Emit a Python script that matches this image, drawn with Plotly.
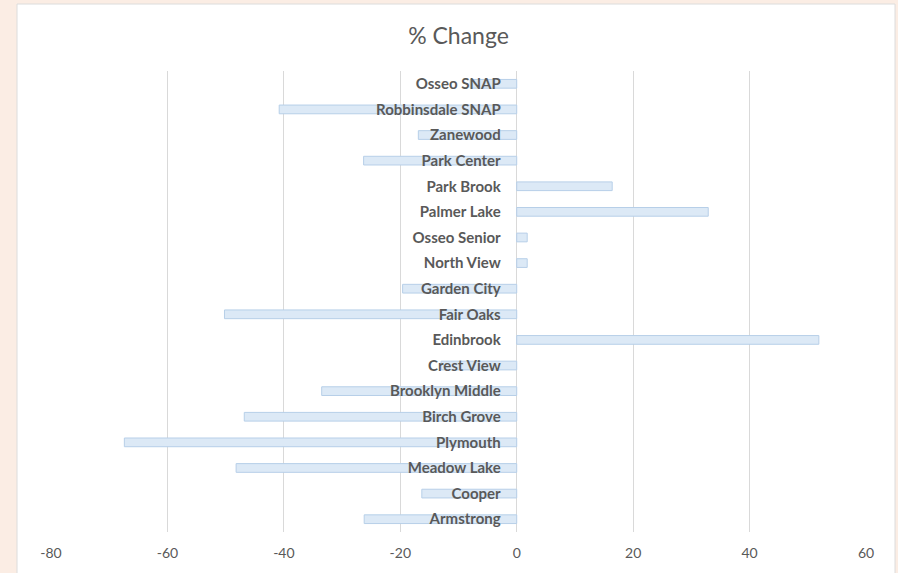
import plotly.graph_objects as go

categories = ["Osseo SNAP", "Robbinsdale SNAP", "Zanewood", "Park Center", "Park Brook",
              "Palmer Lake", "Osseo Senior", "North View", "Garden City", "Fair Oaks",
              "Edinbrook", "Crest View", "Brooklyn Middle", "Birch Grove", "Plymouth",
              "Meadow Lake", "Cooper", "Armstrong"]
pct_change = [-8, -40.8, -16.9, -26.3, 16.4, 32.9, 1.8, 1.8, -19.6, -50.2,
              51.9, -13, -33.5, -46.8, -67.4, -48.2, -16.3, -26.2]
x_ticks = [-80, -60, -40, -20, 0, 20, 40, 60]
x_tick_labels = ["-80", "-60", "-40", "-20", "0", "20", "40", "60"]

W, H = 898, 573
L, R, T, B = 51, 32, 71, 41
pw, ph = W - L - R, H - T - B

def px_x(p):
    return (p - L) / pw

def px_y(p):
    return (H - B - p) / ph

fig = go.Figure(go.Bar(
    x=pct_change, y=categories, orientation="h", width=0.34,
    marker=dict(color="#dce9f6", line=dict(color="#b7cfe8", width=1)),
    hoverinfo="x+y",
))

fig.add_shape(type="rect", xref="paper", yref="paper", layer="below",
              x0=px_x(17), x1=px_x(895), y0=px_y(575), y1=px_y(4),
              fillcolor="white", line=dict(color="#dcdcdc", width=1))

fig.update_layout(
    width=W, height=H,
    margin=dict(l=L, r=R, t=T, b=B),
    paper_bgcolor="#fbede4",
    plot_bgcolor="rgba(0,0,0,0)",
    showlegend=False,
    title=dict(text="% Change", x=0.5, xref="paper", xanchor="center",
               y=1 - 36 / H, yanchor="middle",
               font=dict(family="Lato, Open Sans, sans-serif", size=23, color="#595959")),
    xaxis=dict(range=[-80, 60], tickvals=x_ticks, ticktext=x_tick_labels,
               showgrid=True, gridcolor="#d9d9d9",
               gridwidth=1, zeroline=True, zerolinecolor="#d9d9d9", zerolinewidth=1,
               showline=False, ticks="outside", ticklen=8, tickcolor="rgba(0,0,0,0)",
               tickfont=dict(family="Lato, Open Sans, sans-serif", size=14, color="#595959"),
               fixedrange=True),
    yaxis=dict(autorange="reversed", anchor="free", position=80 / 140, side="left",
               showgrid=False, zeroline=False, showline=False,
               ticks="outside", ticklen=13, tickcolor="rgba(0,0,0,0)",
               tickfont=dict(family="Lato, Open Sans, sans-serif", size=15, color="#595959",
                             weight="bold"),
               fixedrange=True),
)

fig.write_html("out.html")
